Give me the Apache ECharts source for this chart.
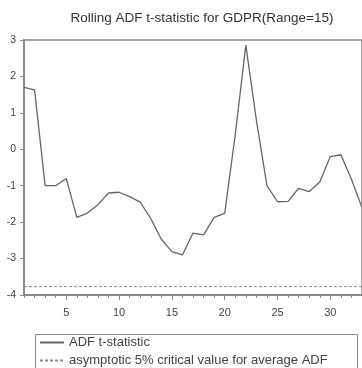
<!DOCTYPE html>
<html>
<head>
<meta charset="utf-8">
<script src="https://cdn.jsdelivr.net/npm/echarts@6/dist/echarts.min.js"></script>
<style>html,body{margin:0;padding:0;background:#fff;}#c{width:362px;height:368px;}</style>
</head>
<body>
<div id="c"></div>
<script>
const titleText = 'Rolling ADF t-statistic for GDPR(Range=15)';
const categories = ['1','2','3','4','5','6','7','8','9','10','11','12','13','14','15','16','17','18','19','20','21','22','23','24','25','26','27','28','29','30','31','32','33'];
const adfValues = [1.70, 1.63, -1.00, -1.00, -0.80, -1.87, -1.75, -1.52, -1.20, -1.18, -1.30, -1.45, -1.90, -2.47, -2.81, -2.90, -2.30, -2.35, -1.87, -1.76, 0.40, 2.86, 0.80, -1.00, -1.44, -1.43, -1.07, -1.16, -0.90, -0.20, -0.15, -0.82, -1.60];
const criticalValue = -3.77;
const criticalValues = categories.map(() => criticalValue);
const seriesNames = ['ADF t-statistic', 'asymptotic 5% critical value for average ADF'];
const yMin = -4, yMax = 3, yStep = 1;

const chart = echarts.init(document.getElementById('c'), null, {renderer: 'canvas'});
const axisGrey = '#8a8a8a';
const font = 'Liberation Sans, Arial, sans-serif';
chart.setOption({
  backgroundColor: '#fff',
  animation: false,
  title: {
    text: titleText, left: 197, top: 6, textAlign: 'center',
    textStyle: {fontFamily: font, fontSize: 13.5, fontWeight: 'normal', color: '#333'}
  },
  graphic: [{
    type: 'rect', left: 33, top: 332, silent: true,
    shape: {width: 322, height: 60},
    style: {fill: 'none', stroke: axisGrey, lineWidth: 1}
  }],
  grid: {left: 24, top: 40, bottom: 73, right: -3.3, show: true, borderColor: axisGrey, borderWidth: 1.5},
  legend: {
    orient: 'vertical', left: 39, top: 336,
    data: seriesNames,
    itemWidth: 24, itemHeight: 10, itemGap: 5,
    padding: 0,
    itemStyle: {opacity: 0},
    textStyle: {fontFamily: font, fontSize: 13, color: '#444'}
  },
  xAxis: [{
    type: 'category', data: categories, boundaryGap: false,
    axisLine: {onZero: false, lineStyle: {color: axisGrey, width: 2}},
    axisTick: {show: true, interval: 0, length: 3, lineStyle: {color: axisGrey}},
    axisLabel: {interval: (i, v) => (Number(v) % 5 === 0), margin: 12,
      fontFamily: font, fontSize: 11, color: '#444'},
    splitLine: {show: false}
  }, {
    type: 'category', data: categories, boundaryGap: false, position: 'bottom',
    axisLine: {show: false, onZero: false},
    axisTick: {show: true, interval: (i, v) => (Number(v) % 5 === 0), length: 5, lineStyle: {color: axisGrey}},
    axisLabel: {show: false},
    splitLine: {show: false}
  }],
  yAxis: {
    type: 'value', min: yMin, max: yMax, interval: yStep,
    axisLine: {show: true, onZero: false, lineStyle: {color: axisGrey, width: 2}},
    axisTick: {show: true, length: 4, lineStyle: {color: axisGrey}},
    axisLabel: {margin: 8, fontFamily: font, fontSize: 10.5, color: '#444'},
    splitLine: {show: false}
  },
  series: [{
    name: seriesNames[0], type: 'line', data: adfValues, symbol: 'none',
    lineStyle: {color: '#666', width: 1.3}, itemStyle: {color: '#666'}
  }, {
    name: seriesNames[1], type: 'line', data: criticalValues, symbol: 'none',
    lineStyle: {color: '#888', width: 1, type: [3, 2]}, itemStyle: {color: '#888'}
  }]
});
</script>
</body>
</html>
